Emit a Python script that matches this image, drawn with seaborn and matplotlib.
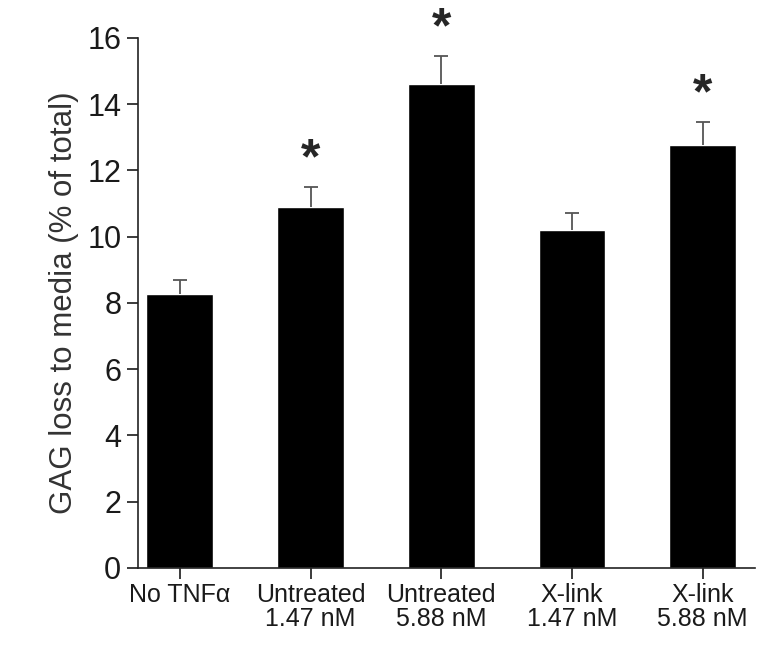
import pandas as pd
import matplotlib.pyplot as plt
import seaborn as sns

# Datos
grupos = ["No TNF\u03b1", "Untreated\n1.47 nM", "Untreated\n5.88 nM", "X-link\n1.47 nM", "X-link\n5.88 nM"]
medias = [8.27, 10.9, 14.6, 10.2, 12.77]
errores = [0.43, 0.6, 0.85, 0.52, 0.7]
significativo = [False, True, True, False, True]


def main():
    df = pd.DataFrame({"grupo": grupos, "media": medias, "error": errores})

    sns.set_theme(style="ticks")
    plt.rcParams["font.family"] = ["Liberation Sans", "DejaVu Sans"]

    fig = plt.figure(figsize=(7.58, 6.49), dpi=100)
    ax = fig.add_axes([0.182, 0.125, 0.814, 0.8165])

    sns.barplot(data=df, x="grupo", y="media", color="black", width=0.51,
                errorbar=None, saturation=1, ax=ax)

    x = range(len(df))
    eb = ax.errorbar(x, df["media"], yerr=[[0] * len(df), df["error"]], fmt="none",
                     ecolor="#555555", elinewidth=1.3, capsize=5, capthick=1.3)
    # ocultar la tapa inferior (sobre la barra)
    eb.lines[1][0].set_visible(False)

    for i, (m, e, s) in enumerate(zip(medias, errores, significativo)):
        if s:
            ax.text(i, m + e + 0.8, "*", ha="center", va="center",
                    fontsize=36, fontweight="bold", clip_on=False)

    ax.set_ylim(0, 16)
    ax.set_xlim(-0.32, 4.4)
    ax.set_yticks(range(0, 17, 2))
    ax.set_xlabel("")
    ax.set_ylabel("GAG loss to media (% of total)", fontsize=22.5, color="#333333", labelpad=6)
    ax.tick_params(axis="y", labelsize=22, length=8, width=1.2, colors="#1a1a1a", pad=4)
    ax.tick_params(axis="x", labelsize=18, length=8, width=1.2, colors="#1a1a1a", pad=3)
    for lab in ax.get_xticklabels():
        lab.set_linespacing(1.0)
    for sp in ["left", "bottom"]:
        ax.spines[sp].set_linewidth(1.2)
        ax.spines[sp].set_color("#222222")
    sns.despine(ax=ax)

    fig.savefig("out.png", dpi=100)


if __name__ == "__main__":
    main()
